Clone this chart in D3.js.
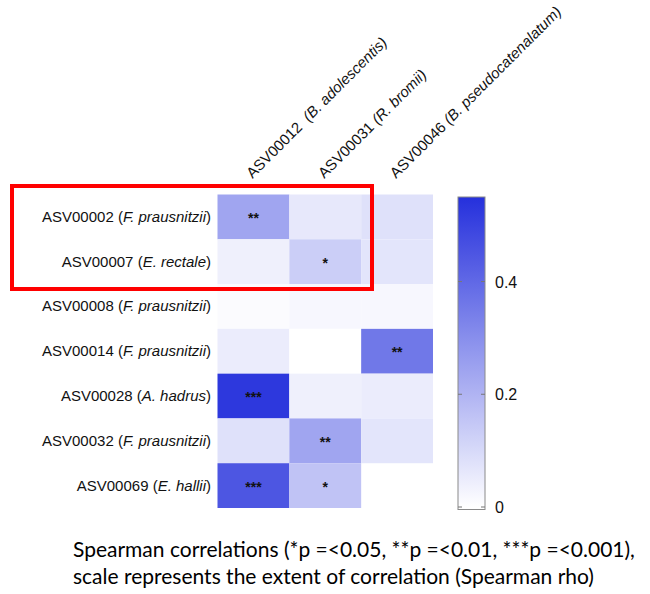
<!DOCTYPE html>
<html>
<head>
<meta charset="utf-8">
<script src="https://cdn.jsdelivr.net/npm/d3@7"></script>
<style>
  html, body { margin: 0; padding: 0; background: #fff; }
  svg { display: block; }
</style>
</head>
<body>
<svg id="chart" width="650" height="594"></svg>
<script>
// Spearman rho between ASVs (rows) and bifidobacteria/ruminococci ASVs (columns)
const rowLabels = [
  ["ASV00002 (", "F. prausnitzii", ")"],
  ["ASV00007 (", "E. rectale", ")"],
  ["ASV00008 (", "F. prausnitzii", ")"],
  ["ASV00014 (", "F. prausnitzii", ")"],
  ["ASV00028 (", "A. hadrus", ")"],
  ["ASV00032 (", "F. prausnitzii", ")"],
  ["ASV00069 (", "E. hallii", ")"]
];
const colLabels = [
  ["ASV00012  ", "(B. adolescentis)"],
  ["ASV00031 ", "(R. bromii)"],
  ["ASV00046 ", "(B. pseudocatenalatum)"]
];
// rho per row; null = not shown
const rhoCol1 = [0.24, 0.04, 0.01, 0.05, 0.53, 0.08, 0.45];
const rhoCol2 = [0.06, 0.13, 0.02, 0.00, 0.04, 0.24, 0.16];
const rhoCol3 = [0.08, 0.07, 0.02, 0.36, 0.05, 0.07, null];
// significance stars per row
const sigCol1 = ["**", "", "", "", "***", "", "***"];
const sigCol2 = ["", "*", "", "", "", "**", "*"];
const sigCol3 = ["", "", "", "**", "", "", ""];
const colorTicks = [0, 0.2, 0.4];
const colorMax = 0.55;
const captionLines = [
  "Spearman correlations (*p =<0.05, **p =<0.01, ***p =<0.001),",
  "scale represents the extent of correlation (Spearman rho)"
];

const rhoCols = [rhoCol1, rhoCol2, rhoCol3];
const sigCols = [sigCol1, sigCol2, sigCol3];
const rowIdx = d3.range(rowLabels.length);
const colIdx = d3.range(colLabels.length);

const cells = [];
colIdx.forEach(c => rowIdx.forEach(r => {
  if (rhoCols[c][r] !== null) cells.push({ r, c, v: rhoCols[c][r], s: sigCols[c][r] });
}));

const svg = d3.select("#chart");
const x = d3.scaleBand().domain(colIdx).range([217.5, 433]);
const y = d3.scaleBand().domain(rowIdx).range([194.5, 508]);
const color = d3.scaleLinear().domain([0, colorMax]).range(["#ffffff", "#2530dc"]).interpolate(d3.interpolateRgb).clamp(true);

// heatmap cells
svg.append("g").selectAll("rect").data(cells).join("rect")
  .attr("x", d => x(d.c)).attr("y", d => y(d.r))
  .attr("width", x.bandwidth()).attr("height", y.bandwidth())
  .attr("fill", d => color(d.v));

svg.append("g").selectAll("text").data(cells.filter(d => d.s)).join("text")
  .attr("x", d => x(d.c) + x.bandwidth() / 2)
  .attr("y", d => y(d.r) + y.bandwidth() / 2 + 6)
  .attr("text-anchor", "middle")
  .attr("font-family", "Liberation Sans, Arial, sans-serif")
  .attr("font-size", 14).attr("font-weight", "bold")
  .attr("fill", "#111")
  .text(d => d.s);

// row labels (species in italics)
const rowG = svg.append("g").attr("font-family", "Liberation Sans, Arial, sans-serif").attr("font-size", 15).attr("fill", "#111");
rowG.selectAll("text").data(rowIdx).join("text")
  .attr("x", 211).attr("y", r => y(r) + y.bandwidth() / 2 + 5)
  .attr("text-anchor", "end")
  .each(function (r) {
    const t = d3.select(this);
    t.append("tspan").text(rowLabels[r][0]);
    t.append("tspan").attr("font-style", "italic").text(rowLabels[r][1]);
    t.append("tspan").text(rowLabels[r][2]);
  });

// rotated column labels
const colG = svg.append("g").attr("font-family", "Liberation Sans, Arial, sans-serif").attr("font-size", 15).attr("fill", "#111");
colG.selectAll("text").data(colIdx).join("text")
  .attr("transform", c => `translate(${x(c) + x.bandwidth() / 2 - 1},179) rotate(-45)`)
  .each(function (c) {
    const t = d3.select(this).attr("xml:space", "preserve");
    t.append("tspan").text(colLabels[c][0]);
    t.append("tspan").attr("font-style", "italic").text(colLabels[c][1]);
  });

// colour bar
const cbX = 458, cbW = 27, cbTop = 197, cbBottom = 509.5;
const cbY = d3.scaleLinear().domain([0, colorMax]).range([507, 197]);
const defs = svg.append("defs");
const grad = defs.append("linearGradient").attr("id", "rhoGrad")
  .attr("gradientUnits", "userSpaceOnUse")
  .attr("x1", 0).attr("x2", 0).attr("y1", cbY(0)).attr("y2", cbY(colorMax));
d3.range(0, 1.0001, 0.1).forEach(t => {
  grad.append("stop").attr("offset", t).attr("stop-color", color(t * colorMax));
});
svg.append("rect").attr("x", cbX).attr("y", cbTop).attr("width", cbW).attr("height", cbBottom - cbTop)
  .attr("fill", "url(#rhoGrad)").attr("stroke", "#8a8a8a").attr("stroke-width", 1);

const cbAxis = svg.append("g").attr("font-family", "Liberation Sans, Arial, sans-serif").attr("font-size", 16).attr("fill", "#111");
colorTicks.forEach(v => {
  const yy = cbY(v);
  cbAxis.append("line").attr("x1", cbX).attr("x2", cbX + 4).attr("y1", yy).attr("y2", yy).attr("stroke", "#777");
  cbAxis.append("line").attr("x1", cbX + cbW - 4).attr("x2", cbX + cbW).attr("y1", yy).attr("y2", yy).attr("stroke", "#777");
  cbAxis.append("text").attr("x", 495).attr("y", yy + 6).text(d3.format("~g")(v));
});

// highlight box around first two rows / columns
svg.append("rect")
  .attr("x", 12).attr("y", 186).attr("width", 360).attr("height", 103)
  .attr("fill", "none").attr("stroke", "#ff0000").attr("stroke-width", 4);

// caption
svg.append("g").attr("font-family", "Lato, 'Open Sans', sans-serif").attr("font-size", 21).attr("fill", "#000")
  .selectAll("text").data(captionLines).join("text")
  .attr("x", 73).attr("y", (d, i) => 557 + i * 27)
  .text(d => d);
</script>
</body>
</html>
